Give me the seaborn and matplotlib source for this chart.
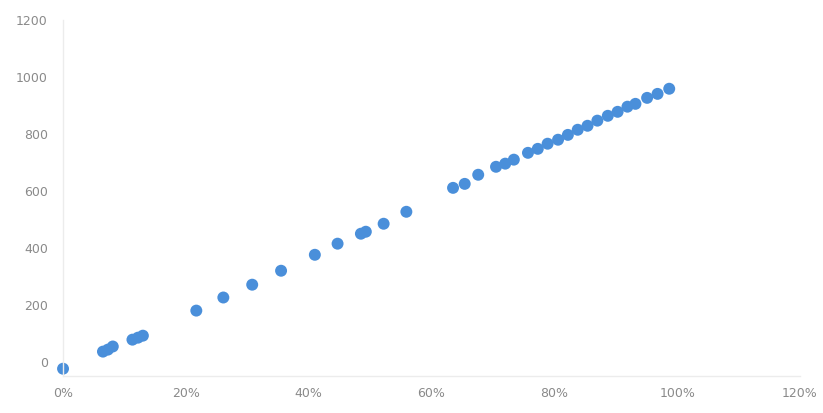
import pandas as pd
import matplotlib
matplotlib.use('Agg')
import matplotlib.pyplot as plt
import matplotlib.ticker as mtick
import seaborn as sns

# Values (x as fraction, y as count)
share = [0.000, 0.065, 0.073, 0.081, 0.113, 0.122, 0.130, 0.217, 0.261, 0.308,
         0.355, 0.410, 0.447, 0.485, 0.493, 0.522, 0.559, 0.635, 0.654, 0.676,
         0.705, 0.720, 0.734, 0.757, 0.773, 0.789, 0.806, 0.822, 0.838, 0.854,
         0.870, 0.887, 0.903, 0.919, 0.932, 0.951, 0.968, 0.987]
value = [-25, 35, 42, 53, 77, 84, 91, 179, 225, 270,
         319, 375, 414, 449, 456, 484, 526, 610, 624, 656,
         684, 695, 709, 733, 747, 765, 779, 796, 814, 828,
         846, 863, 877, 895, 905, 926, 940, 958]

x_ticks = [0, 0.2, 0.4, 0.6, 0.8, 1.0, 1.2]
y_ticks = [0, 200, 400, 600, 800, 1000, 1200]

data = pd.DataFrame({'share': share, 'value': value})

sns.set_style('white')
plt.rcParams['font.family'] = ['DejaVu Sans']

fig = plt.figure(figsize=(8.23, 4.13), dpi=100)
ax = fig.add_axes([0.0766, 0.09, 0.8955, 0.862])

sns.scatterplot(data=data, x='share', y='value', ax=ax, s=74,
                color='#4a8fda', edgecolor='none', legend=False, clip_on=False)

ax.set_xlim(0, 1.2)
ax.set_ylim(-50, 1200)
ax.set_xticks(x_ticks)
ax.set_yticks(y_ticks)
ax.xaxis.set_major_formatter(mtick.PercentFormatter(xmax=1, decimals=0))
ax.tick_params(axis='both', length=0, labelsize=9, labelcolor='#8a8a8a')
ax.tick_params(axis='y', pad=11)
ax.tick_params(axis='x', pad=8)
ax.set_xlabel('')
ax.set_ylabel('')

for side in ['top', 'right']:
    ax.spines[side].set_visible(False)
for side in ['left', 'bottom']:
    ax.spines[side].set_color('#ececec')
    ax.spines[side].set_linewidth(1)
ax.set_axisbelow(True)

plt.savefig('out.png', dpi=100)
plt.close()
